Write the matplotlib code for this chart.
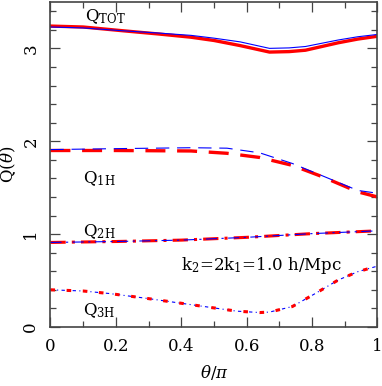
import matplotlib
matplotlib.use("Agg")
import matplotlib.pyplot as plt
from matplotlib.ticker import MultipleLocator, FuncFormatter
import numpy as np

# Q_TOT (theta/pi, red thick, blue thin)
T_TOT = [0.0, 0.1, 0.22, 0.33, 0.43, 0.5, 0.58, 0.67, 0.73, 0.78, 0.88, 0.94, 1.0]
QTOT_R = [3.24, 3.23, 3.19, 3.155, 3.12, 3.085, 3.03, 2.96, 2.965, 2.98, 3.06, 3.10, 3.13]
QTOT_B = [3.23, 3.22, 3.19, 3.165, 3.14, 3.11, 3.07, 3.00, 3.005, 3.02, 3.09, 3.125, 3.15]

# Q_1H
T_1H = [0.0, 0.2, 0.43, 0.54, 0.64, 0.74, 0.83, 0.94, 1.0]
Q1H_R = [1.90, 1.90, 1.895, 1.87, 1.825, 1.74, 1.62, 1.455, 1.40]
Q1H_B = [1.91, 1.92, 1.93, 1.925, 1.875, 1.76, 1.63, 1.47, 1.44]

# Q_2H
T_2H = [0.0, 0.2, 0.4, 0.6, 0.8, 1.0]
Q2H_R = [0.91, 0.92, 0.935, 0.965, 1.005, 1.035]
Q2H_B = [0.91, 0.92, 0.935, 0.965, 1.005, 1.035]

# Q_3H
T_3H = [0.0, 0.1, 0.18, 0.29, 0.39, 0.49, 0.57, 0.64, 0.67, 0.74, 0.81, 0.88, 0.94, 1.0]
Q3H_R = [0.40, 0.387, 0.36, 0.31, 0.26, 0.21, 0.17, 0.155, 0.16, 0.22, 0.36, 0.505, 0.595, 0.655]
Q3H_B = [0.40, 0.387, 0.36, 0.31, 0.26, 0.21, 0.17, 0.155, 0.16, 0.22, 0.36, 0.505, 0.595, 0.655]

plt.rcParams["font.family"] = "DejaVu Serif"
plt.rcParams["mathtext.fontset"] = "dejavuserif"

fig = plt.figure(figsize=(3.82, 3.86), dpi=100)
ax = fig.add_axes([0.132, 0.153, 0.856, 0.842])

ax.plot(T_TOT, QTOT_R, color="red", lw=2.4)
ax.plot(T_TOT, QTOT_B, color="blue", lw=0.8)
ax.plot(T_1H, Q1H_R, color="red", lw=2.4, dashes=(6, 3.5))
ax.plot(T_1H, Q1H_B, color="blue", lw=0.8, dashes=(12, 7))
ax.plot(T_2H, Q2H_R, color="red", lw=2.2, dashes=(5, 2, 1, 2))
ax.plot(T_2H, Q2H_B, color="blue", lw=0.8, dashes=(10, 4, 2, 4))
ax.plot(T_3H, Q3H_B, color="blue", lw=0.8, dashes=(3, 3, 1, 3))
ax.plot(T_3H, Q3H_R, color="red", lw=2.2, dashes=(1.5, 3.8))

ax.text(0.105, 3.34, r"Q$_{\rm TOT}$", fontsize=12, va="center")
ax.text(0.10, 1.60, r"Q$_{\rm 1H}$", fontsize=12, va="center")
ax.text(0.10, 1.03, r"Q$_{\rm 2H}$", fontsize=12, va="center")
ax.text(0.10, 0.17, r"Q$_{\rm 3H}$", fontsize=12, va="center")
ax.text(0.40, 0.66, r"k$_2$=2k$_1$=1.0 h/Mpc", fontsize=12, va="center")

ax.set_xlim(0, 1)
ax.set_ylim(0, 3.5)
ax.xaxis.set_major_locator(MultipleLocator(0.2))
ax.xaxis.set_minor_locator(MultipleLocator(0.1))
ax.yaxis.set_major_locator(MultipleLocator(1))
ax.yaxis.set_minor_locator(MultipleLocator(0.2))
ax.xaxis.set_major_formatter(FuncFormatter(lambda v, p: f"{v:g}"))
ax.yaxis.set_major_formatter(FuncFormatter(lambda v, p: f"{v:g}"))
ax.tick_params(which="both", direction="in", top=True, right=True, labelsize=12,
               color="#444444")
ax.tick_params(which="major", length=7, width=0.9)
ax.tick_params(which="minor", length=4, width=0.9)
ax.tick_params(axis="x", pad=8)
ax.tick_params(axis="y", pad=8)
for lbl in ax.get_yticklabels():
    lbl.set_rotation(90)
    lbl.set_va("center")
for s in ax.spines.values():
    s.set_color("#444444")
    s.set_linewidth(1.2)

ax.set_xlabel(r"$\theta/\pi$", fontsize=12, labelpad=6)
ax.set_ylabel(r"Q$(\theta)$", fontsize=12, labelpad=3)

fig.savefig("out.png", dpi=100)
